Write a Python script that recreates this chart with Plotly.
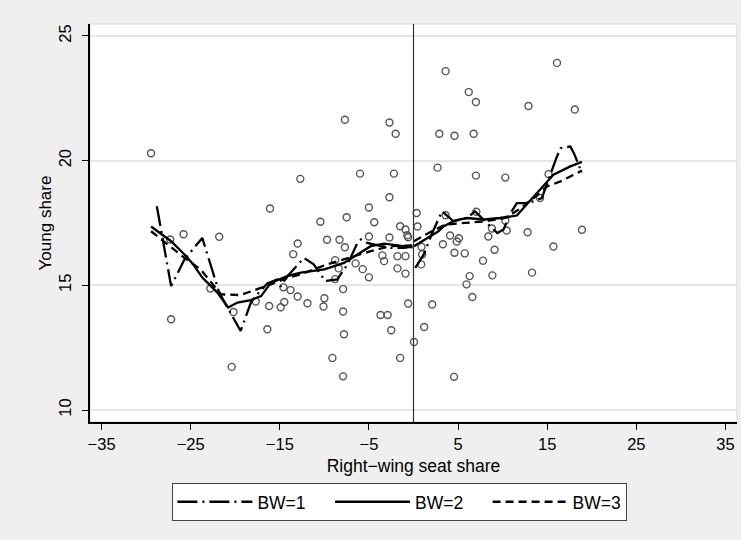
import plotly.graph_objects as go

# ---- data ----
scatter_x = [-29.45, -27.3, -27.2, -25.8, -22.8, -21.8, -20.4, -20.2, -17.7, -16.4,
             -16.2, -16.1, -14.9, -14.6, -14.5, -13.8, -13.5, -13.0, -13.0, -12.7,
             -11.9, -10.45, -10.1, -10.0, -9.7, -9.1, -8.8, -8.8, -8.4, -8.3,
             -7.9, -7.9, -7.9, -7.8, -7.7, -7.7, -7.5, -6.5, -6.0, -5.7,
             -5.0, -5.0, -5.0, -4.4, -3.7, -3.5, -3.3, -2.9, -2.7, -2.7,
             -2.7, -2.5, -2.2, -2.0, -1.8, -1.8, -1.5, -1.5, -0.9, -0.9,
             -0.9, -0.7, -0.6, -0.6, 0.05, 0.35, 0.45, 0.9, 0.97, 0.86,
             1.2, 2.1, 2.7, 2.9, 3.3, 3.6, 3.6, 4.1, 4.55, 4.6,
             4.6, 4.85, 5.1, 5.75, 5.95, 6.2, 6.3, 6.6, 6.75, 7.0,
             7.0, 7.05, 7.8, 8.4, 8.8, 8.85, 9.1, 10.3, 10.3, 10.45,
             12.8, 12.9, 13.3, 14.2, 15.15, 15.7, 16.1, 18.1, 18.9]
scatter_y = [20.30, 16.84, 13.64, 17.05, 14.87, 16.95, 11.73, 13.93, 14.35, 13.24,
             14.17, 18.08, 14.12, 14.92, 14.33, 14.81, 16.25, 16.68, 14.55, 19.27,
             14.28, 17.55, 14.15, 14.48, 16.83, 12.09, 16.01, 15.25, 15.68, 16.83,
             14.85, 13.95, 11.35, 13.04, 21.64, 16.53, 17.73, 15.88, 19.48, 15.65,
             18.12, 16.96, 15.32, 17.53, 13.81, 16.20, 15.97, 13.81, 21.53, 18.53,
             16.92, 13.20, 19.48, 21.08, 16.17, 15.68, 17.37, 12.09, 17.24, 16.17,
             15.47, 17.01, 16.93, 14.27, 12.73, 17.90, 17.36, 16.55, 16.24, 15.84,
             13.33, 14.23, 19.72, 21.08, 16.65, 23.59, 17.81, 17.00, 11.33, 21.00,
             16.31, 16.76, 16.89, 16.28, 15.04, 22.75, 15.37, 14.53, 21.08, 22.35,
             19.40, 17.95, 15.99, 16.96, 17.28, 15.40, 16.43, 19.32, 17.59, 17.20,
             17.13, 22.19, 15.51, 18.50, 19.46, 16.56, 23.92, 22.05, 17.23]

bw1_left_x = [-28.8, -27.2, -25.7, -23.7, -21.8, -19.4, -18.25, -17.7, -16.4, -15.3,
              -14.9, -14.15, -12.3, -11.2, -9.9, -8.55, -7.4, -6.3, -5.9, -5.2,
              -4.0, -2.5, -1.0, -0.2]
bw1_left_y = [18.17, 14.97, 16.04, 16.9, 14.71, 13.17, 14.31, 14.57, 15.08, 15.24,
              14.95, 15.37, 16.1, 15.84, 15.17, 15.24, 15.84, 16.7, 16.84, 16.7,
              16.6, 16.5, 16.5, 16.55]
bw1_right_x = [0.2, 1.15, 2.1, 3.2, 4.5, 6.0, 6.9, 7.9, 8.6, 9.4, 10.1, 10.9,
               11.6, 12.5, 13.5, 14.4, 15.0, 15.7, 16.1, 16.5, 17.6, 18.0, 18.9]
bw1_right_y = [15.7, 16.24, 17.1, 17.97, 17.57, 17.7, 17.97, 17.64, 17.37, 17.1, 17.24, 17.9,
               18.3, 18.3, 18.37, 18.5, 19.1, 19.84, 20.17, 20.5, 20.57, 20.3, 19.5]

bw2_left_x = [-29.45, -28.3, -27.2, -25.7, -24.8, -23.7, -22.0, -20.8, -19.75, -18.25,
              -17.1, -16.0, -14.15, -12.65, -10.0, -7.8, -6.3, -4.8, -3.3, -1.5, -0.1]
bw2_left_y = [17.36, 17.04, 16.77, 16.24, 15.88, 15.31, 14.71, 14.11, 14.31, 14.41,
              14.57, 15.11, 15.37, 15.51, 15.64, 15.9, 16.24, 16.57, 16.67, 16.6, 16.52]
bw2_right_x = [0.05, 1.3, 1.9, 2.8, 3.4, 4.7, 6.0, 7.9, 9.7, 11.2, 11.6, 12.7,
               14.2, 15.7, 17.6, 18.9]
bw2_right_y = [16.57, 16.84, 16.97, 17.17, 17.37, 17.61, 17.7, 17.64, 17.7, 17.77, 17.8, 18.24,
               18.84, 19.44, 19.77, 19.95]

bw3_left_x = [-29.45, -27.5, -25.7, -23.9, -21.6, -19.4, -17.5, -16.0, -14.1, -12.65,
              -9.7, -7.4, -4.8, -2.6, -0.1]
bw3_left_y = [17.17, 16.6, 16.1, 15.64, 14.64, 14.61, 14.84, 15.04, 15.31, 15.44,
              15.84, 16.1, 16.37, 16.57, 16.6]
bw3_right_x = [0.05, 1.7, 3.6, 5.8, 8.1, 10.3, 11.8, 13.5, 15.0, 16.5, 18.0, 18.9]
bw3_right_y = [16.77, 17.1, 17.44, 17.51, 17.57, 17.7, 18.04, 18.5, 18.97, 19.17, 19.44, 19.6]

x_ticks = [-35, -25, -15, -5, 5, 15, 25, 35]
y_ticks = [10, 15, 20, 25]
series_names = ["BW=1", "BW=2", "BW=3"]

FONT = "Liberation Sans, Arial, sans-serif"
PAD = "\u00a0" * 4

fig = go.Figure()
fig.add_trace(go.Scatter(x=scatter_x, y=scatter_y, mode="markers", showlegend=False,
                         marker=dict(symbol="circle-open", size=7, color="#555555",
                                     line=dict(width=1.4, color="#555555")),
                         hoverinfo="skip"))

styles = [
    dict(dash="20px,5px,2px,5px", width=2.3),
    dict(dash="solid", width=2.3),
    dict(dash="8px,5px", width=2.3),
]
pairs = [
    (bw1_left_x, bw1_left_y, bw1_right_x, bw1_right_y),
    (bw2_left_x, bw2_left_y, bw2_right_x, bw2_right_y),
    (bw3_left_x, bw3_left_y, bw3_right_x, bw3_right_y),
]
for i, (name, st, (lx, ly, rx, ry)) in enumerate(zip(series_names, styles, pairs)):
    label = name + (PAD if i < len(series_names) - 1 else "")
    fig.add_trace(go.Scatter(x=lx, y=ly, mode="lines", name=label, legendgroup=name,
                             line=dict(color="black", width=st["width"], dash=st["dash"]),
                             showlegend=True, hoverinfo="skip"))
    fig.add_trace(go.Scatter(x=rx, y=ry, mode="lines", name=label, legendgroup=name,
                             line=dict(color="black", width=st["width"], dash=st["dash"]),
                             showlegend=False, hoverinfo="skip"))

# vertical cutoff line at 0
fig.add_shape(type="line", x0=0, x1=0, y0=0, y1=1, xref="x", yref="paper",
              line=dict(color="#333333", width=1.2))
# faint frame around the plot region
fig.add_shape(type="rect", x0=0, x1=1, y0=0, y1=1, xref="paper", yref="paper",
              line=dict(color="#e4e4e4", width=1.5), layer="below")

fig.update_layout(
    width=741, height=540,
    paper_bgcolor="#efefef", plot_bgcolor="white",
    margin=dict(l=90, r=4, t=24, b=118, autoexpand=False),
    font=dict(family=FONT, size=16, color="black"),
    xaxis=dict(range=[-36.3, 36.3], tickvals=x_ticks, showgrid=False, zeroline=False,
               automargin=False,
               showline=True, linecolor="black", linewidth=1.5,
               ticks="outside", ticklen=6, tickcolor="black", tickwidth=1.2,
               title=dict(text="Right\u2212wing seat share", standoff=8,
                          font=dict(size=17.5)),
               tickfont=dict(size=16.5)),
    yaxis=dict(range=[9.52, 25.48], tickvals=y_ticks, showgrid=True, gridcolor="#e6e6e6",
               automargin=False,
               gridwidth=1.5, zeroline=False, showline=True, linecolor="black", linewidth=1.5,
               ticks="outside", ticklen=6, tickcolor="black", tickwidth=1.2,
               tickangle=-90, tickfont=dict(size=16.5), ticklabelstandoff=5,
               title=dict(text="Young share", standoff=0, font=dict(size=17))),
    legend=dict(orientation="h", x=0.479, xanchor="center", y=-0.153, yanchor="top",
                bgcolor="white", bordercolor="#444444", borderwidth=1,
                font=dict(size=17.5), itemwidth=75,
                tracegroupgap=0, itemclick=False),
    hovermode=False,
)

fig.write_html("out.html", config={"displayModeBar": False},
               post_script="document.body.style.margin='0';"
                           "document.body.style.background='#efefef';"
                           "document.body.style.overflow='hidden';")
